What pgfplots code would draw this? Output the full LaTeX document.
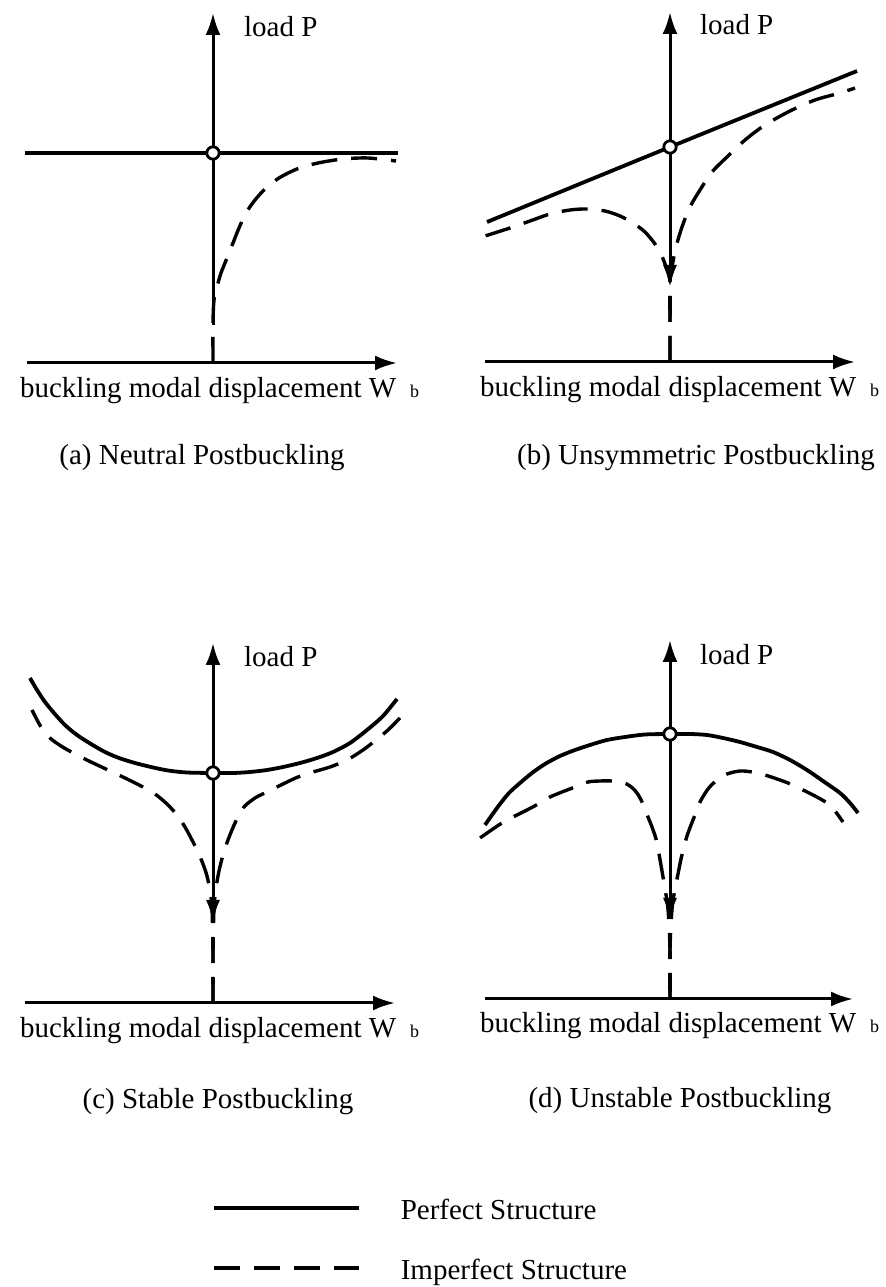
\documentclass[border=0pt]{standalone}
\usepackage{fontspec}
\setmainfont{Liberation Serif}
\usepackage{pgfplots}
\pgfplotsset{compat=1.18}
\usetikzlibrary{arrows.meta}

% text sizes
\newcommand{\txt}{\fontsize{14.5}{17}\selectfont}
\newcommand{\sub}{\fontsize{9}{10}\selectfont}

\pgfplotsset{
  panel/.style={x=0.5pt, y=0.5pt, xmin=-190, xmax=190, ymin=-120, ymax=360,
    hide axis, clip=false, enlargelimits=false, anchor=south west},
  axisline/.style={black, line width=1.5pt, -{Latex[length=11pt,width=7.5pt]}},
  bothway/.style={black, line width=1.5pt,
    {Latex[length=11pt,width=7pt]}-{Latex[length=11pt,width=7.5pt]}},
  perfect/.style={black, line width=1.9pt, smooth, tension=0.5, no marks},
  imperfect/.style={black, line width=1.7pt, dash pattern=on 13pt off 7pt,
    smooth, tension=0.5, no marks},
  bif/.style={only marks, mark=*, mark size=3.1pt,
    mark options={fill=white, draw=black, line width=1.4pt, solid}},
}
\tikzset{
  wlabel/.style={anchor=base west, font=\txt},
  ptitle/.style={anchor=base, font=\txt},
}
\newcommand{\wlab}{buckling modal displacement W\hspace{7pt}{\sub b}}

\begin{document}
\begin{tikzpicture}

% (a) neutral postbuckling
\begin{axis}[panel, at={(11.5pt,402pt)}]
  \addplot[axisline] coordinates {(-186,0) (184,0)};
  \addplot[axisline] coordinates {(0,38) (0,350)};
  \addplot[imperfect] coordinates {
    (0,0) (0,40) (1,63) (4,76) (8,90) (14,105) (20,120) (26,135) (33,150)
    (42,163) (53,175) (66,185) (84,194) (105,200) (130,204) (155,205) (183,202)};
  \addplot[perfect] coordinates {(-188,210) (185,210)};
  \addplot[bif] coordinates {(0,210)};
  \node[anchor=base west, font=\txt] at (axis cs:24,326) {load P};
  \node[wlabel] at (axis cs:-200,-35) {\wlab};
  \node[ptitle] at (axis cs:-11,-102) {(a) Neutral Postbuckling};
\end{axis}

% (b) unsymmetric postbuckling
\begin{axis}[panel, at={(240pt,402.5pt)}]
  \addplot[axisline] coordinates {(-185,0) (185,0)};
  \addplot[bothway] coordinates {(0,75) (0,350)};
  \addplot[imperfect] coordinates {
    (0,0) (0,40) (0,80) (-4,95) (-9,108) (-15,118) (-25,130) (-37,139) (-50,146)
    (-65,151) (-83,153) (-100,152) (-120,148) (-140,141) (-160,134) (-185,126)};
  \addplot[imperfect] coordinates {
    (0,0) (0,40) (0,80) (2,95) (6,115) (12,135) (20,155) (30,172) (42,190)
    (57,205) (75,222) (95,237) (120,251) (145,262) (170,269) (185,274)};
  \addplot[perfect] coordinates {(-183,140) (0,215) (187,291)};
  \addplot[bif] coordinates {(0,215)};
  \node[anchor=base west, font=\txt] at (axis cs:23,327) {load P};
  \node[wlabel] at (axis cs:-197,-35) {\wlab};
  \node[ptitle] at (axis cs:26,-103) {(b) Unsymmetric Postbuckling};
\end{axis}

% (c) stable postbuckling, with the key to the line styles
\begin{axis}[panel, at={(11.5pt,82pt)},
  legend cell align=left,
  legend image code/.code={\draw[#1] (0pt,0pt) -- (72.5pt,0pt);},
  legend style={at={(axis cs:-1,-187)}, anchor=north west, draw=none, fill=none,
    inner sep=0pt, outer sep=0pt, row sep=12pt,
    nodes={inner sep=0pt, text height=14.5pt, text depth=3.5pt, font=\txt},
    /tikz/every odd column/.append style={column sep=20pt}}]
  \addplot[axisline, forget plot] coordinates {(-188,0) (182,0)};
  \addplot[bothway, forget plot] coordinates {(0,81) (0,360)};
  \addplot[perfect] coordinates {
    (-183,325) (-176,313) (-168,301) (-159,290) (-148,278) (-136,268) (-122,259)
    (-108,251) (-94,245) (-78,240) (-62,236) (-45,232.5) (-26,230.5) (0,230)
    (20,230) (37,231) (54,233) (70,236) (87,240) (104,245) (120,251) (137,260)
    (154,273) (170,287) (184,304)};
  \addlegendentry{Perfect Structure}
  \addplot[imperfect] coordinates {
    (0,0) (0,50) (-1,95) (-3,112) (-6,127) (-10,139) (-15,151) (-21,163)
    (-28,176) (-36,188) (-46,199) (-58,209) (-72,217) (-88,225) (-105,233)
    (-122,241) (-138,249) (-152,257) (-163,265) (-172,276) (-181,293)};
  \addlegendentry{Imperfect Structure}
  \addplot[imperfect, forget plot] coordinates {
    (0,0) (0,50) (1,95) (3,115) (6,132) (10,148) (15,163) (22,180) (30,195)
    (42,205) (56,212) (70,219) (85,226) (100,231) (117,236) (134,243) (150,253)
    (163,263) (175,273) (187,285)};
  \addplot[bif, forget plot] coordinates {(0,230)};
  \node[anchor=base west, font=\txt] at (axis cs:24,336) {load P};
  \node[wlabel] at (axis cs:-200,-35) {\wlab};
  \node[ptitle] at (axis cs:5,-105) {(c) Stable Postbuckling};
\end{axis}

% (d) unstable postbuckling
\begin{axis}[panel, at={(240pt,84pt)}]
  \addplot[axisline] coordinates {(-185,0) (183,0)};
  \addplot[bothway] coordinates {(0,79) (0,359)};
  \addplot[imperfect] coordinates {
    (0,0) (0,50) (-2,90) (-5,110) (-8,128) (-11,145) (-14,160) (-18,172)
    (-22,182) (-27,195) (-33,206) (-40,213) (-48,217) (-58,218) (-70,218)
    (-82,217) (-95,212) (-108,207) (-120,202) (-130,196) (-143,189) (-157,182)
    (-168,176) (-180,168) (-190,161)};
  \addplot[imperfect] coordinates {
    (0,0) (0,50) (2,90) (5,110) (8,125) (11,140) (14,152) (17,163) (21,174)
    (25,184) (30,197) (38,210) (47,219) (57,225) (70,228) (82,227) (95,224)
    (107,220) (118,216) (133,209) (145,203) (157,196) (165,188) (173,177)};
  \addplot[perfect] coordinates {
    (-185,174) (-178,184) (-170,195) (-161,206) (-150,216) (-138,226) (-125,235)
    (-110,243) (-95,249) (-80,254) (-63,259) (-45,262) (-25,264.5) (0,265)
    (20,265) (37,264) (53,261) (70,257) (87,252) (103,247) (120,239) (137,229)
    (153,218) (170,206) (180,196) (188,186)};
  \addplot[bif] coordinates {(0,265)};
  \node[anchor=base west, font=\txt] at (axis cs:23,334) {load P};
  \node[wlabel] at (axis cs:-197,-34) {\wlab};
  \node[ptitle] at (axis cs:10,-109) {(d) Unstable Postbuckling};
\end{axis}

\pgfresetboundingbox
\path[use as bounding box] (0pt,0pt) rectangle (442.5pt,643.5pt);
\end{tikzpicture}
\end{document}
